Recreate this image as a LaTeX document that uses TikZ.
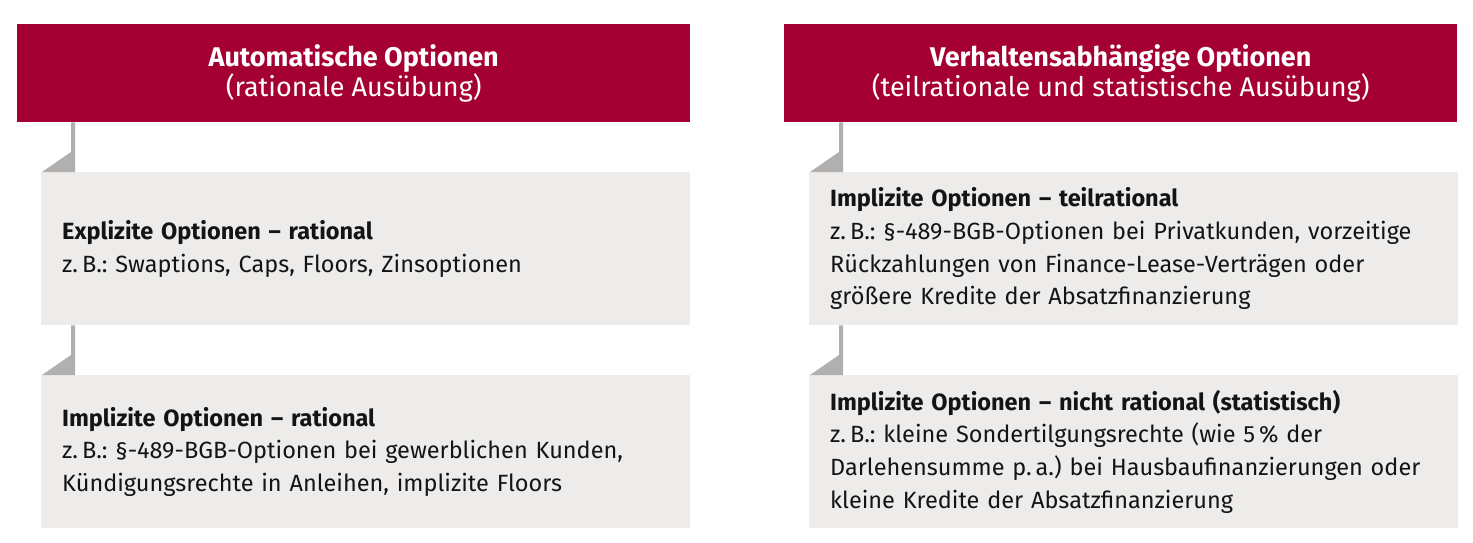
\documentclass[tikz,border=0pt]{standalone}
\usepackage{fontspec}
\setmainfont{Fira Sans}
\definecolor{crimson}{RGB}{165,0,52}
\definecolor{boxgray}{RGB}{237,236,234}
\definecolor{linkgray}{RGB}{177,176,174}
\definecolor{ink}{RGB}{20,20,20}
\frenchspacing
\begin{document}
\begin{tikzpicture}[x=1pt,y=-1pt,
  header/.style={fill=crimson,text=white,anchor=north west,minimum width=673pt,minimum height=98pt,inner sep=0pt,align=center,font=\fontsize{27}{30}\selectfont},
  infobox/.style={fill=boxgray,text=ink,anchor=north west,minimum height=153pt,text width=607pt,inner xsep=21pt,inner ysep=0pt,align=left,font=\fontsize{23.5}{32.7}\selectfont},
  link/.style={fill=linkgray}]
\useasboundingbox (0,0) rectangle (1473,543);
% left column
\node[header] (hL) at (17,24) {\textbf{Automatische Optionen}\\(rationale Ausübung)};
\node[infobox,minimum width=649pt] (bL1) at (41,172) {\textbf{Explizite Optionen – rational}\\z.\,B.: Swaptions, Caps, Floors, Zinsoptionen};
\node[infobox,minimum width=649pt] (bL2) at (41,375) {\textbf{Implizite Optionen – rational}\\z.\,B.: §-489-BGB-Optionen bei gewerblichen Kunden,\\Kündigungsrechte in Anleihen, implizite Floors};
% right column
\node[header] (hR) at (784,24) {\textbf{Verhaltensabhängige Optionen}\\(teilrationale und statistische Ausübung)};
\node[infobox,minimum width=648pt] (bR1) at (809,172) {\textbf{Implizite Optionen – teilrational}\\z.\,B.: §-489-BGB-Optionen bei Privatkunden, vorzeitige\\Rückzahlungen von Finance-Lease-Verträgen oder\\größere Kredite der Absatzfinanzierung};
\node[infobox,minimum width=648pt] (bR2) at (809,375) {\textbf{Implizite Optionen – nicht rational (statistisch)}\\z.\,B.: kleine Sondertilgungsrechte (wie 5\,\% der\\Darlehensumme p.\,a.) bei Hausbaufinanzierungen oder\\kleine Kredite der Absatzfinanzierung};
% connectors
\foreach \a/\b in {hL/bL1,bL1/bL2,hR/bR1,bR1/bR2}{
  \fill[link] ([xshift=30pt]\b.north west |- \a.south) -- ([xshift=34pt]\b.north west |- \a.south)
    -- ([xshift=34pt]\b.north west) -- ([xshift=1pt]\b.north west)
    -- ([xshift=30pt,yshift=20pt]\b.north west) -- cycle;
}
\end{tikzpicture}
\end{document}
